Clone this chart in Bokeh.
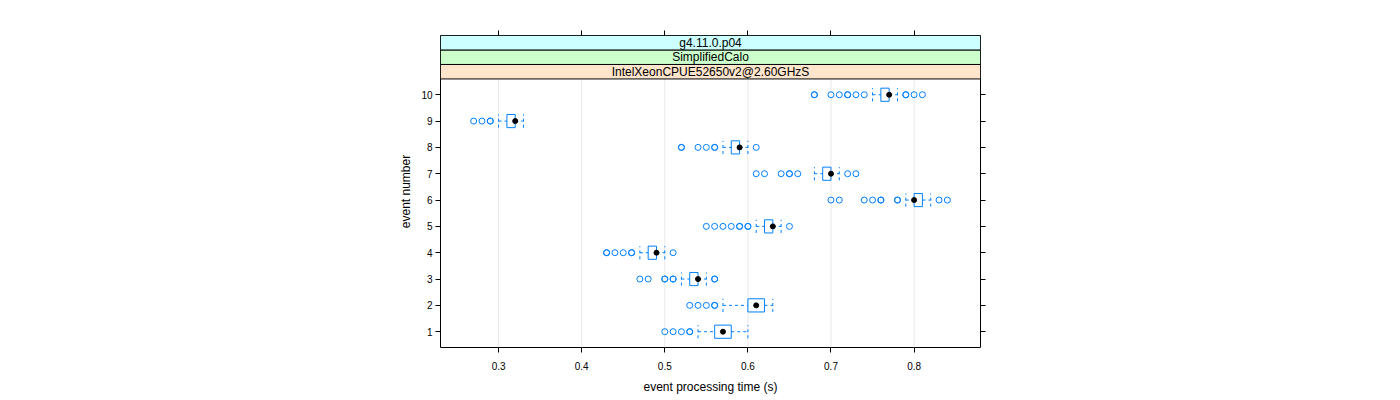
from bokeh.plotting import figure
from bokeh.models import Range1d, LinearAxis, FixedTicker
from bokeh.embed import file_html
from bokeh.resources import INLINE
from bokeh.core.properties import value

# ---- data ----
events = [1, 2, 3, 4, 5, 6, 7, 8, 9, 10]
whisker_lo = [0.54, 0.57, 0.52, 0.47, 0.61, 0.79, 0.68, 0.57, 0.30, 0.75]
q1 = [0.56, 0.60, 0.53, 0.48, 0.62, 0.80, 0.69, 0.58, 0.31, 0.76]
median = [0.57, 0.61, 0.54, 0.49, 0.63, 0.80, 0.70, 0.59, 0.32, 0.77]
q3 = [0.58, 0.62, 0.54, 0.49, 0.63, 0.81, 0.70, 0.59, 0.32, 0.77]
whisker_hi = [0.60, 0.63, 0.55, 0.50, 0.64, 0.82, 0.71, 0.60, 0.33, 0.78]
outliers = [
    [0.50, 0.51, 0.52, 0.53, 0.53],
    [0.53, 0.54, 0.55, 0.56, 0.56],
    [0.47, 0.48, 0.50, 0.50, 0.51, 0.51, 0.56, 0.56],
    [0.43, 0.43, 0.44, 0.45, 0.46, 0.46, 0.51],
    [0.55, 0.56, 0.57, 0.58, 0.59, 0.59, 0.60, 0.60, 0.65],
    [0.70, 0.71, 0.74, 0.75, 0.76, 0.76, 0.78, 0.78, 0.83, 0.84],
    [0.61, 0.62, 0.64, 0.65, 0.65, 0.66, 0.72, 0.73],
    [0.52, 0.52, 0.54, 0.55, 0.56, 0.56, 0.61],
    [0.27, 0.28, 0.29, 0.29],
    [0.68, 0.68, 0.70, 0.71, 0.72, 0.72, 0.73, 0.74, 0.79, 0.79, 0.80, 0.81],
]
x_ticks = [0.3, 0.4, 0.5, 0.6, 0.7, 0.8]
strip_labels = ["IntelXeonCPUE52650v2@2.60GHzS", "SimplifiedCalo", "g4.11.0.p04"]
strip_colors = ["#ffe5cc", "#ccffcc", "#ccffff"]

# ---- layout ----
BLUE = "#0080ff"
FONT = "Liberation Sans"
lo_all = min(min(o) for o in outliers)
hi_all = max(max(o) for o in outliers)
pad = 0.07 * (hi_all - lo_all)
x0, x1 = lo_all - pad, hi_all + pad
y_lo, y_panel_top = 0.4, len(events) + 0.6
strip_h = 0.55
y_top = y_panel_top + strip_h * len(strip_labels)
half = 0.25

p = figure(frame_width=540, frame_height=312, output_backend="svg",
           toolbar_location=None, x_range=Range1d(x0, x1), y_range=Range1d(y_lo, y_top),
           min_border_left=440, min_border_right=412, min_border_top=35, min_border_bottom=45,
           background_fill_color="white", border_fill_color="white")
p.outline_line_color = "#000000"
p.outline_line_width = 1
p.xgrid.visible = False
p.ygrid.visible = False

# grid lines within the panel
p.segment(x0=x_ticks, y0=[y_lo] * len(x_ticks), x1=x_ticks, y1=[y_panel_top] * len(x_ticks),
          line_color="#e8e8e8", line_width=1)

# strips
for i, (lab, col) in enumerate(zip(strip_labels, strip_colors)):
    b = y_panel_top + i * strip_h
    p.quad(left=[x0], right=[x1], bottom=[b], top=[b + strip_h], fill_color=col,
           line_color="#000000", line_width=1)
    p.text(x=[(x0 + x1) / 2], y=[b + strip_h / 2], text=[lab], text_align="center",
           text_baseline="middle", text_font=value(FONT), text_font_size="12px",
           text_color="#000000")

# whiskers (dashed)
p.segment(x0=whisker_lo, y0=events, x1=q1, y1=events, line_color=BLUE, line_dash="3 3", line_width=1)
p.segment(x0=q3, y0=events, x1=whisker_hi, y1=events, line_color=BLUE, line_dash="3 3", line_width=1)
ev_lo = [e - half for e in events]
ev_hi = [e + half for e in events]
p.segment(x0=whisker_lo, y0=ev_lo, x1=whisker_lo, y1=ev_hi, line_color=BLUE, line_dash="3 3", line_width=1)
p.segment(x0=whisker_hi, y0=ev_lo, x1=whisker_hi, y1=ev_hi, line_color=BLUE, line_dash="3 3", line_width=1)

# boxes
p.quad(left=q1, right=q3, bottom=ev_lo, top=ev_hi, fill_color=None, line_color=BLUE, line_width=1)

# outliers
ox, oy = [], []
for e, vals in zip(events, outliers):
    ox += vals
    oy += [e] * len(vals)
p.scatter(x=ox, y=oy, marker="circle", size=6, fill_color=None, line_color=BLUE, line_width=1)

# medians
p.scatter(x=median, y=events, marker="circle", size=5, fill_color="black", line_color="black")

# axes
for ax in (p.xaxis[0], p.yaxis[0]):
    ax.major_tick_in = 0
    ax.major_tick_out = 5
    ax.minor_tick_line_color = None
    ax.axis_line_color = None
    ax.major_tick_line_color = "#000000"
    ax.major_label_text_font = FONT
    ax.major_label_text_font_size = "10px"
    ax.major_label_text_color = "#000000"
    ax.axis_label_text_font = FONT
    ax.axis_label_text_font_size = "12px"
    ax.axis_label_text_font_style = "normal"
    ax.axis_label_text_color = "#000000"
p.xaxis[0].ticker = FixedTicker(ticks=x_ticks)
p.yaxis[0].ticker = FixedTicker(ticks=events)
p.xaxis[0].axis_label = "event processing time (s)"
p.yaxis[0].axis_label = "event number"
p.xaxis[0].major_label_standoff = 9
p.xaxis[0].axis_label_standoff = 7
p.yaxis[0].major_label_standoff = 3
p.yaxis[0].axis_label_standoff = 5
p.yaxis[0].major_label_orientation = "horizontal"

top_ax = LinearAxis(ticker=FixedTicker(ticks=x_ticks), major_tick_in=0, major_tick_out=5,
                    minor_tick_line_color=None, axis_line_color=None,
                    major_label_text_color=None, major_label_text_font_size="1px")
right_ax = LinearAxis(ticker=FixedTicker(ticks=events), major_tick_in=0, major_tick_out=5,
                      minor_tick_line_color=None, axis_line_color=None,
                      major_label_text_color=None, major_label_text_font_size="1px")
p.add_layout(top_ax, "above")
p.add_layout(right_ax, "right")

open("out.html", "w").write(file_html(p, INLINE))
